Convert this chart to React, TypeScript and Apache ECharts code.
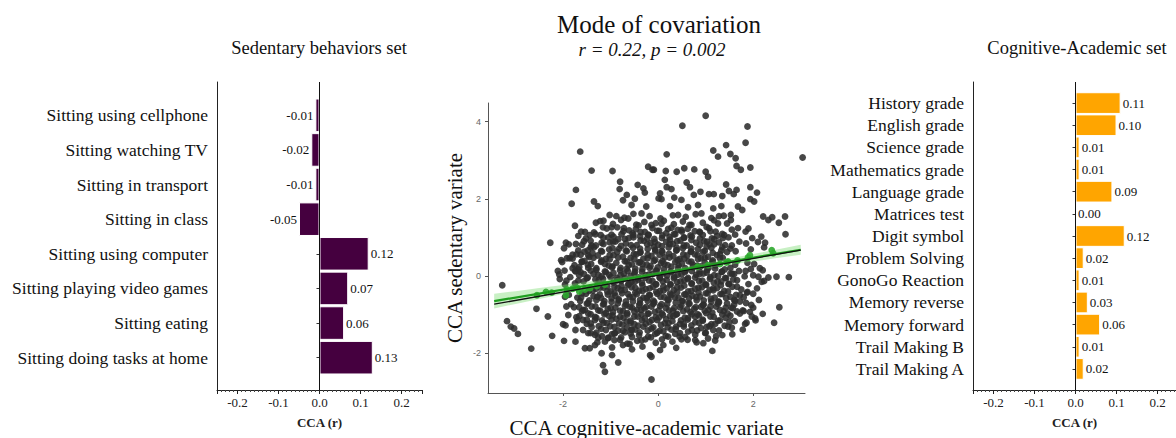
import React, { useEffect, useRef } from "react";
import * as echarts from "echarts";

// ---------- DATA ----------
const sedentaryLabels = [
  "Sitting using cellphone",
  "Sitting watching TV",
  "Sitting in transport",
  "Sitting in class",
  "Sitting using computer",
  "Sitting playing video games",
  "Sitting eating",
  "Sitting doing tasks at home",
];
const sedentaryValues = [-0.01, -0.02, -0.01, -0.05, 0.12, 0.07, 0.06, 0.13];

const cognitiveLabels = [
  "History grade",
  "English grade",
  "Science grade",
  "Mathematics grade",
  "Language grade",
  "Matrices test",
  "Digit symbol",
  "Problem Solving",
  "GonoGo Reaction",
  "Memory reverse",
  "Memory forward",
  "Trail Making B",
  "Trail Making A",
];
const cognitiveValues = [0.11, 0.1, 0.01, 0.01, 0.09, 0.0, 0.12, 0.02, 0.01, 0.03, 0.06, 0.01, 0.02];

const scatterXTicks = [-2, 0, 2];
const scatterYTicks = [-2, 0, 2, 4];

// sparse points read around the cloud
const sparsePoints: number[][] = [
  [-1.64,3.22],[-1.40,2.73],[-0.96,2.72],[-0.21,2.83],[-0.12,2.75],[-0.80,2.44],[-0.81,2.25],[-1.73,2.23],[-0.43,2.36],[-0.31,2.27],[-0.28,2.16],[-0.66,2.10],[-0.74,1.96],[-0.49,2.00],[-1.82,1.87],[-1.35,1.93],[-1.27,1.81],[-0.56,1.84],[-0.25,1.80],[-0.35,1.62],[-0.88,1.55],[-1.15,1.43],[-1.31,1.38],[-0.63,1.49],[-1.75,1.30],[-1.54,1.14],[-1.44,1.06],[-1.32,1.08],[-1.16,1.26],[-0.98,1.26],[-0.72,1.24],[-0.46,1.33],[-2.27,0.86],[-1.94,0.86],[-1.73,0.83],[-1.40,0.79],[-1.19,0.86],[-0.94,1.02],[-0.84,0.95],[-0.52,1.06],
  [1.00,4.15],[0.51,3.89],[1.88,3.87],[1.84,3.45],[1.43,3.39],[1.16,3.25],[1.26,3.09],[1.52,3.16],[1.63,3.05],[3.04,3.07],[0.18,3.15],[1.65,2.85],[1.74,2.75],[1.94,2.81],[-0.09,2.75],[0.16,2.72],[0.39,2.70],[0.55,2.79],[0.76,2.76],[1.00,2.70],[1.05,2.57],[0.14,2.49],[0.60,2.42],[0.67,2.30],[1.43,2.37],[0.18,2.30],[0.28,2.25],[0.89,2.18],[1.07,2.12],[1.17,2.12],[1.49,2.20],[1.65,2.23],[1.94,2.30],[2.08,2.16],[0.04,2.14],[0.34,2.03],[0.01,2.01],[0.75,2.10],[1.35,2.07],[1.59,2.12],[1.94,1.99],[2.02,1.93],[0.07,1.99],[0.49,1.97],[0.84,1.84],[0.63,1.78],[0.25,1.81],[1.33,1.81],[1.16,1.75],[1.68,1.80],[1.77,1.71],[0.42,1.58],[0.91,1.62],[1.28,1.55],[1.53,1.58],[2.21,1.54],[2.40,1.52],[2.67,1.54],[2.54,1.38],[2.32,1.45],[0.70,1.32],[1.07,1.24],[1.26,1.36],[1.53,1.45],[1.68,1.24],[1.84,1.15],[2.17,1.02],[2.25,0.86],[2.68,1.08],[-0.14,1.32],[0.07,1.35],[0.21,1.22],[0.49,1.19],[0.87,1.15],[1.39,1.06],
  [-3.28,-0.24],[-3.18,-1.17],[-3.10,-1.31],[-3.03,-1.36],[-2.95,-1.50],[-2.67,-1.88],[-2.56,-0.85],[-2.32,-1.05],[-2.23,-1.55],[-1.98,-1.68],[-1.74,-1.70],[-2.04,0.41],[-2.11,0.13],[-2.07,-0.08],[-1.96,-0.22],[-1.96,-0.54],[-1.93,-0.79],[-1.89,-1.01],[-2.00,-1.25],[-1.95,-1.28],[-1.74,-1.40],[-1.54,-1.87],[-1.44,-1.87],[-1.33,-1.79],[-1.19,-2.00],[-1.16,-2.31],[-1.12,-2.48],[-0.97,-2.05],[-0.84,-2.24],[-0.74,-1.79],[-0.60,-1.76],[-0.17,-2.05],[-0.14,-2.68],[-1.80,0.55],[-1.86,0.46],[-1.74,0.13],[-1.68,0.17],[-1.61,0.37],[-1.47,0.53],[-1.68,0.66],[-1.54,-0.88],[-1.72,-1.07],[-1.58,-1.14],[-1.47,-1.48],[-1.33,-1.52],[-1.26,-1.60],[-1.12,-1.70],[-1.05,-1.61],[-0.91,-1.48],[-0.70,-1.46],[-0.56,-1.40],
  [2.49,-0.02],[2.75,-0.03],[2.23,-0.13],[2.11,-0.02],[2.55,-0.81],[2.44,-1.21],[1.87,-0.43],[2.04,-1.10],[2.05,-1.15],[1.83,-1.24],[1.61,-1.17],[1.47,-1.31],[1.35,-1.53],[1.14,-1.94],[0.81,-1.72],[0.49,-1.64],[0.21,-1.57],[0.11,-1.79],[-0.14,-2.09],[1.96,-0.75],[1.80,-0.91],[1.93,-0.93],[1.72,-0.66],[1.54,-0.82],[2.14,0.20],[1.84,0.13],[1.56,0.06],[1.40,0.17],
];

// dense central cloud, read row by row
const densePoints: number[][] = [
  [-1.02,1.58],[-0.71,1.51],[-0.52,1.61],[-0.18,1.55],[0.05,1.49],[0.31,1.57],[0.58,1.53],[0.79,1.60],[1.12,1.50],[1.38,1.56],
  [-1.22,1.42],[-0.95,1.35],[-0.78,1.45],[-0.41,1.31],[-0.29,1.40],[-0.05,1.37],[0.12,1.43],[0.33,1.34],[0.52,1.41],[0.66,1.32],[0.94,1.38],[1.18,1.44],[1.45,1.36],
  [-1.62,1.15],[-1.08,1.23],[-0.86,1.26],[-0.61,1.18],[-0.47,1.21],[-0.28,1.14],[-0.12,1.24],[0.02,1.17],[0.28,1.25],[0.41,1.19],[0.62,1.22],[0.77,1.16],[1.02,1.27],[1.21,1.15],[1.55,1.20],[1.9,1.23],
  [-1.68,1.04],[-1.52,0.97],[-1.21,1.06],[-1.05,1.00],[-0.77,1.08],[-0.62,0.98],[-0.38,1.03],[-0.21,1.07],[-0.08,0.96],[0.09,1.05],[0.24,1.01],[0.36,1.08],[0.55,0.99],[0.71,1.02],[0.94,1.06],[1.13,0.97],[1.24,1.04],[1.48,1.00],[1.62,1.07],[1.98,0.98],
  [-1.88,0.82],[-1.56,0.90],[-1.31,0.79],[-1.02,0.87],[-0.9,0.89],[-0.68,0.84],[-0.45,0.80],[-0.3,0.91],[-0.16,0.85],[0.0,0.81],[0.17,0.88],[0.31,0.83],[0.47,0.92],[0.6,0.79],[0.8,0.86],[0.97,0.90],[1.08,0.82],[1.28,0.87],[1.41,0.80],[1.71,0.89],[1.85,0.84],[2.1,0.88],
  [-1.98,0.72],[-1.48,0.66],[-1.35,0.74],[-1.18,0.63],[-1.03,0.69],[-0.82,0.71],[-0.66,0.64],[-0.53,0.73],[-0.37,0.62],[-0.22,0.70],[-0.06,0.68],[0.08,0.65],[0.22,0.74],[0.39,0.67],[0.52,0.72],[0.69,0.63],[0.84,0.70],[0.95,0.62],[1.12,0.73],[1.33,0.66],[1.52,0.71],[1.63,0.64],[1.95,0.69],[2.23,0.74],
  [-1.92,0.46],[-1.63,0.55],[-1.45,0.49],[-1.27,0.53],[-1.1,0.44],[-0.94,0.54],[-0.74,0.50],[-0.58,0.47],[-0.46,0.56],[-0.31,0.45],[-0.14,0.52],[0.03,0.55],[0.14,0.48],[0.32,0.51],[0.45,0.44],[0.61,0.53],[0.77,0.56],[0.9,0.46],[1.05,0.50],[1.24,0.54],[1.36,0.47],
  [-2.02,0.36],[-1.76,0.28],[-1.55,0.39],[-1.41,0.31],[-1.2,0.37],[-1.04,0.27],[-0.88,0.34],[-0.7,0.38],[-0.55,0.30],[-0.41,0.35],[-0.24,0.29],[-0.09,0.39],[0.06,0.33],[0.2,0.28],[0.36,0.36],[0.5,0.32],[0.64,0.38],[0.82,0.27],[0.98,0.35],[1.14,0.37],[1.62,0.29],[1.88,0.34],[2.02,0.31],
  [-1.97,0.14],[-1.8,0.20],[-1.63,0.10],[-1.47,0.21],[-1.3,0.16],[-1.12,0.12],[-0.97,0.22],[-0.8,0.15],[-0.66,0.19],[-0.49,0.11],[-0.33,0.18],[-0.18,0.21],[-0.03,0.13],[0.12,0.17],[0.27,0.10],[0.42,0.20],[0.58,0.14],[0.73,0.22],[0.87,0.12],[1.03,0.16],[1.2,0.19],[1.34,0.11],[1.52,0.21],[1.7,0.13],[1.95,0.18],[2.2,0.15],
  [-2.08,0.04],[-1.85,-0.03],[-1.66,0.02],[-1.5,-0.06],[-1.36,0.05],[-1.19,-0.01],[-1.03,0.03],[-0.87,-0.05],[-0.72,0.06],[-0.58,0.0],[-0.41,-0.04],[-0.26,0.02],[-0.12,0.05],[0.04,-0.06],[0.19,0.01],[0.34,-0.02],[0.49,0.04],[0.63,-0.05],[0.8,0.03],[0.95,0.06],[1.1,-0.03],[1.26,0.0],[1.43,-0.06],[1.6,0.05],[1.82,-0.01],[2.0,0.02],[2.32,-0.04],
  [-1.93,-0.12],[-1.75,-0.19],[-1.57,-0.14],[-1.25,-0.11],[-0.94,-0.17],[-0.78,-0.13],[-0.63,-0.23],[-0.49,-0.15],[-0.34,-0.18],[-0.19,-0.12],[-0.05,-0.21],[0.1,-0.14],[0.26,-0.23],[0.4,-0.16],[0.55,-0.11],[0.71,-0.19],[0.86,-0.13],[1.01,-0.22],[1.17,-0.17],[1.33,-0.14],[1.49,-0.20],[1.66,-0.11],[1.9,-0.21],[2.18,-0.15],
  [-1.46,-0.39],[-1.31,-0.33],[-1.15,-0.30],[-1.0,-0.40],[-0.85,-0.31],[-0.7,-0.36],[-0.56,-0.29],[-0.4,-0.38],[-0.26,-0.34],[-0.11,-0.28],[0.04,-0.39],[0.18,-0.32],[0.33,-0.37],[0.48,-0.30],[0.63,-0.40],[0.78,-0.33],[0.92,-0.29],[1.08,-0.36],[1.24,-0.31],[1.39,-0.39],[1.56,-0.28],[1.75,-0.35],[2.08,-0.32],
  [-1.88,-0.49],[-1.7,-0.56],[-1.52,-0.46],[-1.36,-0.52],[-1.2,-0.57],[-1.06,-0.48],[-0.9,-0.51],[-0.76,-0.45],[-0.6,-0.54],[-0.45,-0.47],[-0.31,-0.56],[-0.17,-0.50],[-0.02,-0.46],[0.13,-0.55],[0.28,-0.49],[0.43,-0.57],[0.58,-0.48],[0.72,-0.51],[0.88,-0.53],[1.04,-0.45],[1.19,-0.56],[1.35,-0.47],[1.52,-0.54],[1.72,-0.50],[2.0,-0.46],
  [-1.83,-0.73],[-1.64,-0.65],[-1.48,-0.70],[-1.3,-0.62],[-1.14,-0.72],[-0.98,-0.67],[-0.83,-0.63],[-0.67,-0.74],[-0.53,-0.66],[-0.38,-0.71],[-0.22,-0.64],[-0.08,-0.68],[0.07,-0.73],[0.22,-0.62],[0.37,-0.69],[0.52,-0.65],[0.66,-0.72],[0.81,-0.63],[0.96,-0.74],[1.12,-0.66],[1.28,-0.68],[1.45,-0.71],[1.62,-0.64],[1.85,-0.70],[2.12,-0.62],
  [-1.77,-0.81],[-1.58,-0.88],[-1.4,-0.79],[-1.22,-0.90],[-1.06,-0.85],[-0.9,-0.82],[-0.74,-0.91],[-0.59,-0.80],[-0.44,-0.87],[-0.29,-0.84],[-0.14,-0.79],[0.01,-0.89],[0.16,-0.83],[0.31,-0.90],[0.46,-0.81],[0.61,-0.86],[0.76,-0.85],[0.9,-0.80],[1.06,-0.88],[1.22,-0.79],[1.38,-0.91],[1.57,-0.83],[1.78,-0.89],[2.0,-0.82],
  [-1.66,-1.04],[-1.47,-0.97],[-1.3,-1.08],[-1.13,-0.99],[-0.96,-1.02],[-0.8,-1.06],[-0.65,-0.96],[-0.5,-1.05],[-0.35,-1.00],[-0.2,-0.97],[-0.05,-1.07],[0.1,-1.01],[0.25,-1.04],[0.4,-0.98],[0.56,-1.08],[0.71,-0.99],[0.86,-1.02],[1.01,-0.96],[1.17,-1.06],[1.35,-1.00],[1.52,-1.03],[1.72,-0.97],[1.97,-1.05],[2.2,-0.98],
  [-1.7,-1.16],[-1.5,-1.24],[-1.33,-1.14],[-1.15,-1.21],[-0.98,-1.13],[-0.82,-1.23],[-0.66,-1.18],[-0.5,-1.25],[-0.34,-1.15],[-0.18,-1.19],[-0.02,-1.14],[0.14,-1.22],[0.3,-1.17],[0.46,-1.24],[0.62,-1.13],[0.78,-1.20],[0.94,-1.16],[1.12,-1.25],[1.3,-1.15],[1.5,-1.19],[1.86,-1.21],
  [-1.58,-1.40],[-1.4,-1.32],[-1.2,-1.37],[-1.01,-1.30],[-0.84,-1.41],[-0.66,-1.34],[-0.48,-1.39],[-0.31,-1.31],[-0.14,-1.36],[0.03,-1.42],[0.2,-1.33],[0.37,-1.38],[0.54,-1.31],[0.71,-1.40],[0.9,-1.35],[1.08,-1.30],[1.28,-1.41],[1.55,-1.34],[1.78,-1.39],
  [-1.42,-1.48],[-1.18,-1.56],[-0.97,-1.51],[-0.78,-1.59],[-0.58,-1.49],[-0.4,-1.53],[-0.21,-1.57],[-0.02,-1.47],[0.16,-1.55],[0.36,-1.50],[0.57,-1.58],[0.78,-1.52],[0.99,-1.48],[1.22,-1.56],[1.56,-1.51],
  [-1.28,-1.72],[-0.92,-1.66],[-0.65,-1.75],[-0.44,-1.68],[-0.27,-1.64],[-0.05,-1.73],[0.3,-1.70],[0.62,-1.65],[0.95,-1.74],[1.2,-1.67],
  [-0.97,-1.85],[-0.55,-1.90],[-0.33,-1.83],[0.04,-1.92],[0.38,-1.86],
];

// darkest core, read between the rows above
const corePoints: number[][] = [
  [-1.35,1.13],[-0.98,1.07],[-0.73,1.16],[-0.54,1.10],[-0.37,1.14],[-0.2,1.06],[-0.02,1.17],[0.17,1.11],[0.33,1.08],[0.5,1.15],[0.68,1.05],[0.88,1.13],[1.1,1.16],[1.35,1.09],
  [-1.42,0.91],[-1.15,0.99],[-0.95,0.89],[-0.7,0.96],[-0.52,1.00],[-0.37,0.92],[-0.23,0.97],[-0.07,0.88],[0.08,0.98],[0.25,0.94],[0.4,0.90],[0.54,1.00],[0.7,0.93],[0.88,0.97],[1.03,0.89],[1.18,0.95],[1.36,0.98],
  [-1.6,0.81],[-1.42,0.74],[-1.15,0.83],[-0.96,0.72],[-0.78,0.78],[-0.57,0.80],[-0.38,0.71],[-0.23,0.82],[-0.09,0.75],[0.08,0.77],[0.24,0.83],[0.39,0.73],[0.54,0.79],[0.7,0.71],[0.88,0.81],[1.02,0.76],[1.18,0.82],[1.35,0.74],[1.55,0.79],
  [-1.72,0.56],[-1.55,0.63],[-1.38,0.59],[-1.2,0.65],[-1.02,0.54],[-0.86,0.62],[-0.68,0.66],[-0.51,0.57],[-0.38,0.60],[-0.22,0.55],[-0.06,0.64],[0.09,0.61],[0.23,0.58],[0.38,0.66],[0.53,0.56],[0.69,0.63],[0.83,0.54],[0.98,0.65],[1.15,0.60],[1.3,0.57],[1.45,0.62],
  [-1.8,0.45],[-1.6,0.37],[-1.36,0.47],[-1.19,0.40],[-1.02,0.43],[-0.84,0.48],[-0.66,0.38],[-0.5,0.44],[-0.38,0.36],[-0.22,0.46],[-0.06,0.42],[0.09,0.39],[0.24,0.48],[0.41,0.41],[0.55,0.45],[0.7,0.37],[0.84,0.44],[0.98,0.47],[1.15,0.40],[1.3,0.46],
  [-1.66,0.23],[-1.48,0.29],[-1.3,0.20],[-1.12,0.31],[-0.96,0.25],[-0.79,0.21],[-0.62,0.28],[-0.48,0.19],[-0.33,0.30],[-0.16,0.26],[-0.01,0.22],[0.13,0.31],[0.28,0.24],[0.43,0.27],[0.57,0.20],[0.73,0.29],[0.9,0.25],[1.06,0.21],[1.2,0.28],
  [-1.74,0.12],[-1.56,0.05],[-1.42,0.14],[-1.26,0.03],[-1.1,0.10],[-0.94,0.08],[-0.79,0.02],[-0.64,0.13],[-0.5,0.06],[-0.34,0.11],[-0.19,0.04],[-0.05,0.14],[0.11,0.07],[0.26,0.12],[0.41,0.03],[0.56,0.10],[0.71,0.13],[0.87,0.05],[1.02,0.09],[1.18,0.02],[1.34,0.11],[1.52,0.06],
  [-1.68,-0.12],[-1.48,-0.04],[-1.32,-0.09],[-1.16,-0.07],[-1.0,-0.03],[-0.86,-0.11],[-0.7,-0.06],[-0.56,-0.15],[-0.42,-0.09],[-0.27,-0.05],[-0.12,-0.13],[0.03,-0.03],[0.18,-0.10],[0.33,-0.06],[0.47,-0.14],[0.62,-0.08],[0.78,-0.04],[0.93,-0.12],[1.09,-0.07],[1.25,-0.15],[1.41,-0.05],[1.58,-0.09],
  [-1.22,-0.30],[-1.07,-0.27],[-0.92,-0.28],[-0.77,-0.26],[-0.62,-0.20],[-0.48,-0.31],[-0.33,-0.24],[-0.18,-0.32],[-0.04,-0.22],[0.11,-0.27],[0.26,-0.21],[0.4,-0.29],[0.55,-0.25],[0.7,-0.20],[0.85,-0.30],[1.0,-0.23],[1.16,-0.32],[1.32,-0.24],[1.48,-0.21],[1.66,-0.28],
  [-1.6,-0.45],[-1.38,-0.38],[-1.23,-0.48],[-1.07,-0.40],[-0.92,-0.44],[-0.78,-0.37],[-0.63,-0.47],[-0.48,-0.43],[-0.33,-0.39],[-0.19,-0.49],[-0.04,-0.41],[0.11,-0.38],[0.25,-0.46],[0.4,-0.42],[0.55,-0.48],[0.7,-0.39],[0.85,-0.43],[1.0,-0.45],[1.16,-0.37],[1.31,-0.47],[1.47,-0.40],[1.64,-0.49],[1.88,-0.41],
  [-1.62,-0.56],[-1.45,-0.63],[-1.28,-0.54],[-1.13,-0.65],[-0.98,-0.58],[-0.83,-0.60],[-0.68,-0.66],[-0.53,-0.55],[-0.38,-0.62],[-0.24,-0.57],[-0.1,-0.64],[0.05,-0.54],[0.2,-0.61],[0.35,-0.56],[0.5,-0.65],[0.65,-0.58],[0.8,-0.55],[0.96,-0.63],[1.11,-0.59],[1.27,-0.66],[1.43,-0.57],[1.6,-0.62],[1.8,-0.55],
  [-1.66,-0.81],[-1.5,-0.72],[-1.32,-0.79],[-1.16,-0.74],[-1.0,-0.83],[-0.85,-0.71],[-0.7,-0.77],[-0.55,-0.82],[-0.4,-0.75],[-0.25,-0.80],[-0.1,-0.72],[0.04,-0.78],[0.19,-0.73],[0.34,-0.83],[0.49,-0.76],[0.64,-0.71],[0.79,-0.81],[0.94,-0.75],[1.1,-0.79],[1.26,-0.72],[1.42,-0.82],[1.6,-0.74],
  [-1.6,-0.91],[-1.42,-0.99],[-1.26,-0.89],[-1.1,-0.96],[-0.95,-0.94],[-0.8,-0.90],[-0.65,-1.00],[-0.5,-0.92],[-0.36,-0.88],[-0.22,-0.98],[-0.07,-0.93],[0.08,-0.97],[0.23,-0.89],[0.38,-1.00],[0.53,-0.91],[0.68,-0.94],[0.83,-0.99],[0.98,-0.90],[1.14,-0.95],[1.3,-0.88],[1.46,-0.97],[1.66,-0.92],
  [-1.5,-1.13],[-1.33,-1.06],[-1.18,-1.15],[-1.03,-1.04],[-0.88,-1.11],[-0.73,-1.08],[-0.58,-1.16],[-0.43,-1.05],[-0.28,-1.10],[-0.13,-1.14],[0.02,-1.07],[0.17,-1.12],[0.32,-1.04],[0.48,-1.15],[0.63,-1.09],[0.78,-1.06],[0.94,-1.13],[1.1,-1.05],[1.26,-1.16],[1.42,-1.08],
  [-1.42,-1.23],[-1.25,-1.30],[-1.08,-1.22],[-0.92,-1.32],[-0.75,-1.26],[-0.58,-1.21],[-0.42,-1.29],[-0.26,-1.24],[-0.1,-1.33],[0.06,-1.27],[0.22,-1.22],[0.38,-1.31],[0.54,-1.25],[0.7,-1.28],[0.86,-1.21],[1.02,-1.32],[1.2,-1.24],[1.4,-1.29],
  [-1.3,-1.47],[-1.1,-1.40],[-0.92,-1.49],[-0.74,-1.42],[-0.56,-1.39],[-0.39,-1.46],[-0.22,-1.41],[-0.06,-1.50],[0.11,-1.43],[0.28,-1.39],[0.46,-1.48],[0.63,-1.44],[0.82,-1.41],[1.0,-1.47],[1.16,-1.40],
  [-1.05,-1.60],[-0.8,-1.65],[-0.55,-1.58],[-0.35,-1.67],[-0.15,-1.59],[0.08,-1.64],[0.45,-1.57],[0.78,-1.66],[1.05,-1.62],
];

// points that show green inside the confidence band
const greenPoints: number[][] = [
  [-2.55,-0.50],[-2.36,-0.41],[-2.24,-0.43],[-1.94,-0.50],[-1.92,-0.35],[-1.80,-0.33],[-1.70,-0.31],[-1.66,-0.40],[-1.54,-0.35],[-1.43,-0.31],[-1.29,-0.26],[-1.12,-0.22],
  [0.83,0.24],[1.05,0.28],[1.30,0.31],[1.44,0.35],[1.47,0.38],[1.67,0.40],[1.89,0.48],[1.93,0.54],[2.39,0.67],[2.42,0.59],
];

// fitted lines (end points) and confidence band
const fitLine: number[][] = [[-3.45, -0.73], [3.0, 0.67]];
const smoothLine: number[][] = [[-3.45, -0.65], [3.0, 0.68]];
const bandX = [-3.45, -3, -2.5, -2, -1.5, -1, -0.5, 0, 0.5, 1, 1.5, 2, 2.5, 3.0];
const bandUpper = [-0.46, -0.392, -0.314, -0.236, -0.158, -0.075, 0.013, 0.111, 0.219, 0.332, 0.45, 0.568, 0.688, 0.809];
const bandLower = [-0.84, -0.722, -0.594, -0.466, -0.338, -0.215, -0.097, 0.011, 0.109, 0.202, 0.29, 0.378, 0.464, 0.549];

// ---------- STYLE ----------
const SERIF = "'Liberation Serif', 'Times New Roman', serif";
const SANS = "'Liberation Sans', Arial, sans-serif";
const PURPLE = "#45003f";
const ORANGE = "#ffa500";

function frameXAxis(gridIndex: number, max: number) {
  return {
    type: "value",
    gridIndex,
    min: -0.25,
    max,
    splitNumber: 5,
    axisLine: { show: true, onZero: false, lineStyle: { color: "#222", width: 1 } },
    axisTick: { show: true, length: 4, lineStyle: { color: "#222" } },
    minorTick: { show: true, splitNumber: 10, length: 2, lineStyle: { color: "#444" } },
    splitLine: { show: false },
    axisLabel: {
      show: true,
      margin: 6,
      fontSize: 13,
      fontFamily: SERIF,
      color: "#222",
      showMinLabel: false,
      showMaxLabel: false,
      formatter: (v: number) => (Math.abs(v) < 1e-9 ? "0.0" : v.toFixed(1)),
    },
    name: "CCA (r)",
    nameLocation: "middle",
    nameGap: 26,
    nameTextStyle: { fontSize: 13, fontWeight: "bold", fontFamily: SERIF, color: "#222" },
  };
}
function hiddenXAxis(gridIndex: number, max: number) {
  return { type: "value", gridIndex, min: -0.25, max, show: false };
}
function frameYAxis(gridIndex: number) {
  return {
    type: "value",
    gridIndex,
    min: 0,
    max: 1,
    axisLine: { show: true, onZero: false, lineStyle: { color: "#222", width: 1 } },
    axisTick: { show: false },
    axisLabel: { show: false },
    splitLine: { show: false },
  };
}
function catYAxis(gridIndex: number, labels: string[]) {
  return {
    type: "category",
    gridIndex,
    data: labels,
    inverse: true,
    axisLine: { show: false },
    axisTick: { show: true, alignWithLabel: true, interval: 0, length: 3, lineStyle: { color: "#333" } },
    axisLabel: { interval: 0, margin: 9, fontSize: 17.5, fontFamily: SERIF, color: "#111" },
    splitLine: { show: false },
  };
}
function barSeries(xi: number, values: number[], color: string, gap: string) {
  return {
    type: "bar",
    xAxisIndex: xi,
    yAxisIndex: xi,
    barCategoryGap: gap,
    itemStyle: { color, borderColor: "#fff", borderWidth: 1 },
    label: {
      show: true,
      distance: 2,
      fontSize: 13,
      fontFamily: SERIF,
      color: "#111",
      formatter: (p: any) => Number(p.value).toFixed(2),
    },
    data: values.map((v) => ({ value: v, label: { position: v < 0 ? "left" : "right" } })),
    z: 3,
  };
}
function zeroLineSeries(xi: number) {
  return {
    type: "scatter",
    xAxisIndex: xi,
    yAxisIndex: xi,
    symbolSize: 0,
    silent: true,
    data: [[0, 0.5]],
    markLine: {
      silent: true,
      symbol: "none",
      label: { show: false },
      lineStyle: { color: "#111", width: 1, type: "solid" },
      data: [{ xAxis: 0 }],
    },
    z: 4,
  };
}

export default function App() {
  const ref = useRef<HTMLDivElement>(null);
  useEffect(() => {
    if (!ref.current) return;
    const chart = echarts.init(ref.current, undefined, { renderer: "svg" });
    const option: any = {
      animation: false,
      backgroundColor: "#fff",
      grid: [
        { left: 217, top: 82, width: 205, height: 308, outerBoundsMode: "none" },
        { left: 217, top: 98, width: 205, height: 277, outerBoundsMode: "none" },
        { left: 973, top: 82, width: 203, height: 308, outerBoundsMode: "none" },
        { left: 973, top: 92, width: 203, height: 288, outerBoundsMode: "none" },
        { left: 488, top: 103, width: 317, height: 290, outerBoundsMode: "none" },
      ],
      xAxis: [
        frameXAxis(0, 0.25),
        hiddenXAxis(1, 0.25),
        frameXAxis(2, 0.245),
        hiddenXAxis(3, 0.245),
        {
          type: "value",
          gridIndex: 4,
          min: -3.58,
          max: 3.09,
          axisLine: { show: true, onZero: false, lineStyle: { color: "#555", width: 1 } },
          axisTick: { show: true, customValues: scatterXTicks, length: 3, lineStyle: { color: "#555" } },
          axisLabel: { customValues: scatterXTicks, margin: 6, fontSize: 9, fontFamily: SANS, color: "#666" },
          splitLine: { show: false },
          name: "CCA cognitive-academic variate",
          nameLocation: "middle",
          nameGap: 24,
          nameTextStyle: { fontSize: 21, fontFamily: SERIF, color: "#111" },
        },
      ],
      yAxis: [
        frameYAxis(0),
        catYAxis(1, sedentaryLabels),
        frameYAxis(2),
        catYAxis(3, cognitiveLabels),
        {
          type: "value",
          gridIndex: 4,
          min: -3.03,
          max: 4.48,
          axisLine: { show: true, onZero: false, lineStyle: { color: "#555", width: 1 } },
          axisTick: { show: true, customValues: scatterYTicks, length: 3, lineStyle: { color: "#555" } },
          axisLabel: { customValues: scatterYTicks, margin: 7, fontSize: 9, fontFamily: SANS, color: "#666" },
          splitLine: { show: false },
          name: "CCA sedentary variate",
          nameLocation: "middle",
          nameGap: 23,
          nameTextStyle: { fontSize: 21, fontFamily: SERIF, color: "#111" },
        },
      ],
      graphic: [
        { type: "text", x: 319, y: 48, style: { text: "Sedentary behaviors set", font: `18.5px ${SERIF}`, fill: "#111", textAlign: "center", textVerticalAlign: "middle" } },
        { type: "text", x: 1077, y: 48, style: { text: "Cognitive-Academic set", font: `18.5px ${SERIF}`, fill: "#111", textAlign: "center", textVerticalAlign: "middle" } },
        { type: "text", x: 659, y: 24, style: { text: "Mode of covariation", font: `25px ${SERIF}`, fill: "#111", textAlign: "center", textVerticalAlign: "middle" } },
        { type: "text", x: 652, y: 49, style: { text: "r = 0.22, p = 0.002", font: `italic 19px ${SERIF}`, fill: "#111", textAlign: "center", textVerticalAlign: "middle" } },
      ],
      series: [
        zeroLineSeries(0),
        barSeries(1, sedentaryValues, PURPLE, "3%"),
        zeroLineSeries(2),
        barSeries(3, cognitiveValues, ORANGE, "2%"),
        {
          type: "scatter",
          xAxisIndex: 4,
          yAxisIndex: 4,
          symbolSize: 6.8,
          itemStyle: { color: "#2e2e2e", opacity: 0.88 },
          data: [...sparsePoints, ...densePoints, ...corePoints],
          silent: true,
          large: false,
          z: 2,
        },
        {
          type: "custom",
          xAxisIndex: 4,
          yAxisIndex: 4,
          silent: true,
          data: [[0, 0]],
          renderItem: (_params: any, api: any) => {
            const pts: number[][] = [];
            for (let i = 0; i < bandX.length; i++) pts.push(api.coord([bandX[i], bandUpper[i]]));
            for (let i = bandX.length - 1; i >= 0; i--) pts.push(api.coord([bandX[i], bandLower[i]]));
            return { type: "polygon", shape: { points: pts }, style: { fill: "rgba(110,215,100,0.38)" } };
          },
          z: 3,
        },
        {
          type: "scatter",
          xAxisIndex: 4,
          yAxisIndex: 4,
          symbolSize: 6.8,
          itemStyle: { color: "#2da82d", opacity: 0.9 },
          data: greenPoints,
          silent: true,
          z: 4,
        },
        {
          type: "line",
          xAxisIndex: 4,
          yAxisIndex: 4,
          data: smoothLine,
          symbol: "none",
          silent: true,
          lineStyle: { color: "#1f9e1f", width: 2.2 },
          z: 5,
        },
        {
          type: "line",
          xAxisIndex: 4,
          yAxisIndex: 4,
          data: fitLine,
          symbol: "none",
          silent: true,
          lineStyle: { color: "#111", width: 1.3 },
          z: 6,
        },
      ],
    };
    chart.setOption(option);
    return () => chart.dispose();
  }, []);
  return <div ref={ref} style={{ position: "absolute", left: 0, top: 0, width: 1176, height: 438 }} />;
}
